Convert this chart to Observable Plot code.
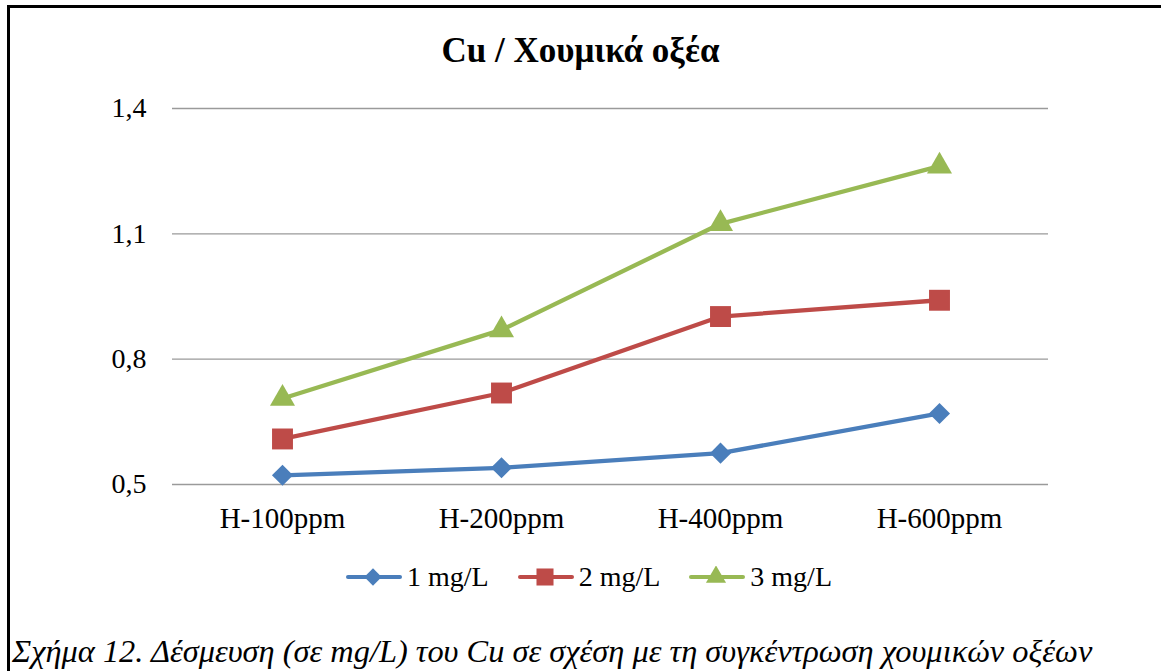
<!DOCTYPE html>
<html>
<head>
<meta charset="utf-8">
<script src="https://cdn.jsdelivr.net/npm/d3@7"></script>
<script src="https://cdn.jsdelivr.net/npm/@observablehq/plot@0.6"></script>
<style>
  html, body { margin: 0; padding: 0; background: #fff; }
  #wrap { position: relative; width: 1161px; height: 671px; overflow: hidden;
          font-family: "Times New Roman", "Liberation Serif", Tinos, "DejaVu Serif", serif; color: #000; }
  #frameL { position: absolute; left: 7px; top: 5px; width: 3px; height: 700px; background: #000; }
  #frameT { position: absolute; left: 7px; top: 5px; width: 1160px; height: 3px; background: #000; }
  #chart { position: absolute; left: 0; top: 0; }
  #title { position: absolute; left: 0; top: 33px; width: 1161px; text-align: center;
           font-weight: bold; font-size: 35px; line-height: 1; }
  #legend { position: absolute; left: 346px; top: 563px; display: flex; align-items: center;
            gap: 29px; font-size: 28px; line-height: 1; }
  #legend .item { display: flex; align-items: center; gap: 5px; }
  #caption { position: absolute; left: 12px; top: 635px; font-style: italic; font-size: 32.4px;
             line-height: 1; white-space: nowrap; }
</style>
</head>
<body>
<div id="wrap">
  <div id="chart"></div>
  <div id="title"></div>
  <div id="legend"></div>
  <div id="caption"></div>
  <div id="frameL"></div>
  <div id="frameT"></div>
</div>
<script>
// ---- Data ----
const titleText = "Cu / Χουμικά οξέα";
const captionText = "Σχήμα 12. Δέσμευση (σε mg/L) του Cu σε σχέση με τη συγκέντρωση χουμικών οξέων";
const categories = ["H-100ppm", "H-200ppm", "H-400ppm", "H-600ppm"];
const seriesNames = ["1 mg/L", "2 mg/L", "3 mg/L"];
const series1 = [0.522, 0.540, 0.575, 0.670];
const series2 = [0.609, 0.719, 0.902, 0.941];
const series3 = [0.706, 0.870, 1.124, 1.262];
const yTicks = [0.5, 0.8, 1.1, 1.4];
const yTickLabels = ["0,5", "0,8", "1,1", "1,4"];

// ---- Styles ----
const colors = ["#4A7EBB", "#BE4B48", "#98B954"];
const symbols = ["diamond2", "square", "triangle"];
const symbolR = [9.5, 11.8, 9.3];
const serif = "'Times New Roman', 'Liberation Serif', Tinos, 'DejaVu Serif', serif";

const allSeries = [series1, series2, series3];
const data = allSeries.flatMap((vals, i) =>
  vals.map((v, j) => ({ cat: categories[j], series: seriesNames[i], value: v })));

document.getElementById("title").textContent = titleText;
document.getElementById("caption").textContent = captionText;

const chart = Plot.plot({
  width: 1161,
  height: 540,
  marginLeft: 172,
  marginRight: 113,
  marginTop: 108,
  marginBottom: 56,
  style: { fontFamily: serif, fontSize: "27px",
           color: "#000", background: "transparent", overflow: "visible" },
  x: { type: "point", domain: categories, padding: 0.5, label: null },
  y: { domain: [0.5, 1.4], label: null },
  color: { domain: seriesNames, range: colors },
  marks: [
    Plot.ruleY(yTicks, { stroke: "#9a9a9a", strokeWidth: 1.4 }),
    Plot.axisY({ ticks: yTicks, tickSize: 0, tickPadding: 26, fontSize: 28, label: null,
                 tickFormat: d => yTickLabels[yTicks.indexOf(d)] }),
    Plot.axisX({ tickSize: 0, tickPadding: 23, fontSize: 29, label: null }),
    Plot.line(data, { x: "cat", y: "value", z: "series", stroke: "series", strokeWidth: 4.3,
                      strokeLinejoin: "round", strokeLinecap: "round" }),
    ...seriesNames.map((name, i) =>
      Plot.dot(data.filter(d => d.series === name),
        { x: "cat", y: "value", fill: "series", symbol: symbols[i], r: symbolR[i], stroke: "none" }))
  ]
});
chart.querySelectorAll("text").forEach(t => t.style.fontFamily = serif);
chart.style.fontFamily = serif;
document.getElementById("chart").appendChild(chart);

// ---- Legend ----
const legend = document.getElementById("legend");
const ns = "http://www.w3.org/2000/svg";
seriesNames.forEach((name, i) => {
  const item = document.createElement("div");
  item.className = "item";
  const svg = document.createElementNS(ns, "svg");
  svg.setAttribute("width", 56);
  svg.setAttribute("height", 22);
  const line = document.createElementNS(ns, "line");
  line.setAttribute("x1", 2); line.setAttribute("x2", 54);
  line.setAttribute("y1", 11); line.setAttribute("y2", 11);
  line.setAttribute("stroke", colors[i]); line.setAttribute("stroke-width", 4);
  line.setAttribute("stroke-linecap", "round");
  svg.appendChild(line);
  const sym = { diamond2: d3.symbolDiamond2, square: d3.symbolSquare, triangle: d3.symbolTriangle }[symbols[i]];
  const sizes = [190, 290, 175];
  const p = document.createElementNS(ns, "path");
  p.setAttribute("d", d3.symbol(sym, sizes[i])());
  p.setAttribute("transform", "translate(27,11)");
  p.setAttribute("fill", colors[i]);
  svg.appendChild(p);
  item.appendChild(svg);
  const t = document.createElement("span");
  t.textContent = name;
  item.appendChild(t);
  legend.appendChild(item);
});
</script>
</body>
</html>
